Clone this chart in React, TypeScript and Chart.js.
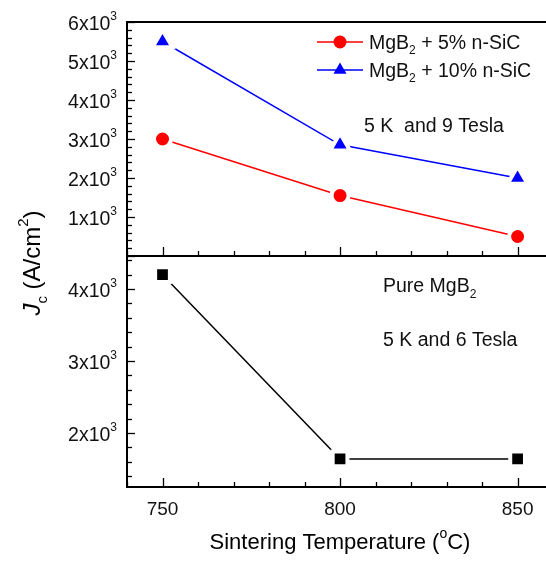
import React, { useEffect, useRef } from "react";
import { Chart, registerables } from "chart.js";

Chart.register(...registerables);

// ---- data ----
const temps = [750, 800, 850];
const jc5SiC = [3000, 1550, 500];
const jc10SiC = [5500, 2850, 2000];
const jcPure = [4200, 1640, 1640];
const xTickLabels = [750, 800, 850];
const topYTickMantissas = [1, 2, 3, 4, 5, 6];
const bottomYTickMantissas = [2, 3, 4];
const legendLabels = ["MgB|2| + 5% n-SiC", "MgB|2| + 10% n-SiC"];

const W = 546;
const H = 561;
const FAM = '"Liberation Sans", Arial, Helvetica, sans-serif';
const AX_LEFT = 127;
const TOP_Y = 22;
const MID_Y = 256;
const BOT_Y = 487;
const GAP = 4; // white halo around markers (line gap)

type Part = { t: string; sup?: boolean; sub?: boolean; italic?: boolean };

function drawRich(
  ctx: CanvasRenderingContext2D,
  parts: Part[],
  x: number,
  y: number,
  size: number,
  align: "left" | "right" | "center",
  color = "#000"
) {
  const small = Math.round(size * 0.62);
  const fontOf = (p: Part) =>
    `${p.italic ? "italic " : ""}${p.sup || p.sub ? small : size}px ${FAM}`;
  ctx.save();
  ctx.fillStyle = color;
  ctx.textBaseline = "alphabetic";
  ctx.textAlign = "left";
  const widths = parts.map((p) => {
    ctx.font = fontOf(p);
    return ctx.measureText(p.t).width;
  });
  const total = widths.reduce((a, b) => a + b, 0);
  let cx = align === "left" ? x : align === "right" ? x - total : x - total / 2;
  parts.forEach((p, i) => {
    ctx.font = fontOf(p);
    const dy = p.sup ? -size * 0.5 : p.sub ? size * 0.3 : 0;
    ctx.fillText(p.t, cx, y + dy);
    cx += widths[i];
  });
  ctx.restore();
}

function parseSub(label: string): Part[] {
  const segs = label.split("|");
  return segs.map((s, i) => (i % 2 === 1 ? { t: s, sub: true } : { t: s }));
}

function line(ctx: CanvasRenderingContext2D, x1: number, y1: number, x2: number, y2: number, w = 2, c = "#000") {
  ctx.save();
  ctx.strokeStyle = c;
  ctx.lineWidth = w;
  ctx.beginPath();
  ctx.moveTo(x1, y1);
  ctx.lineTo(x2, y2);
  ctx.stroke();
  ctx.restore();
}

function drawXTicks(chart: any, yAxis: number) {
  const ctx = chart.ctx as CanvasRenderingContext2D;
  const xs = chart.scales.x;
  for (let v = 740; v <= 860; v += 10) {
    const px = xs.getPixelForValue(v);
    if (px > W + 1) continue;
    const major = v % 50 === 0;
    line(ctx, Math.round(px) + 0.5, yAxis, Math.round(px) + 0.5, yAxis - (major ? 9 : 5), 1.3);
  }
}

function drawYTicks(chart: any, from: number, to: number) {
  const ctx = chart.ctx as CanvasRenderingContext2D;
  const ys = chart.scales.y;
  for (let v = from; v <= to; v += 200) {
    const py = ys.getPixelForValue(v);
    const major = v % 1000 === 0;
    line(ctx, AX_LEFT, Math.round(py) + 0.5, AX_LEFT + (major ? 8 : 5), Math.round(py) + 0.5, 1.3);
  }
}

function drawYLabels(chart: any, mantissas: number[]) {
  const ctx = chart.ctx as CanvasRenderingContext2D;
  const ys = chart.scales.y;
  mantissas.forEach((m) => {
    const py = ys.getPixelForValue(m * 1000);
    drawRich(ctx, [{ t: `${m}x10` }, { t: "3", sup: true }], 117, py + 8, 19.5, "right", "#111");
  });
}

const topPlugin = {
  id: "topDecor",
  afterDraw(chart: any) {
    const ctx = chart.ctx as CanvasRenderingContext2D;
    // frame
    line(ctx, AX_LEFT, TOP_Y, W, TOP_Y, 2);
    line(ctx, AX_LEFT, TOP_Y - 1, AX_LEFT, MID_Y + 1, 2);
    line(ctx, AX_LEFT, MID_Y, W, MID_Y, 2);
    drawXTicks(chart, MID_Y);
    drawYTicks(chart, 0, 6000);
    drawYLabels(chart, topYTickMantissas);

    // legend
    const rows = [
      { label: legendLabels[0], color: "#ff0000", style: "circle", r: 6.5, y: 42 },
      { label: legendLabels[1], color: "#0000ff", style: "triangle", r: 7.5, y: 70 },
    ];
    rows.forEach((row) => {
      line(ctx, 317, row.y, 363, row.y, 1.5, row.color);
      ctx.save();
      ctx.fillStyle = row.color;
      ctx.beginPath();
      if (row.style === "circle") {
        ctx.arc(340, row.y, row.r, 0, Math.PI * 2);
      } else {
        const r = row.r;
        ctx.moveTo(340, row.y - r);
        ctx.lineTo(340 + r * Math.sin(Math.PI * 2 / 3), row.y + r / 2);
        ctx.lineTo(340 - r * Math.sin(Math.PI * 2 / 3), row.y + r / 2);
        ctx.closePath();
      }
      ctx.fill();
      ctx.restore();
      drawRich(ctx, parseSub(row.label), 369, row.y + 6.5, 19.5, "left", "#111");
    });

    drawRich(ctx, [{ t: "5 K  and 9 Tesla" }], 364, 132, 19.5, "left", "#111");
  },
};

const bottomPlugin = {
  id: "bottomDecor",
  afterDraw(chart: any) {
    const ctx = chart.ctx as CanvasRenderingContext2D;
    line(ctx, AX_LEFT, MID_Y, AX_LEFT, BOT_Y + 1, 2);
    line(ctx, AX_LEFT, BOT_Y, W, BOT_Y, 2);
    drawXTicks(chart, BOT_Y);
    drawYTicks(chart, 1400, 4400);
    drawYLabels(chart, bottomYTickMantissas);

    // x tick labels
    const xs = chart.scales.x;
    xTickLabels.forEach((v) => {
      drawRich(ctx, [{ t: String(v) }], xs.getPixelForValue(v), 515, 19, "center", "#111");
    });

    // x title
    drawRich(
      ctx,
      [{ t: "Sintering Temperature (" }, { t: "o", sup: true }, { t: "C)" }],
      340,
      549,
      22,
      "center"
    );

    // y title
    ctx.save();
    ctx.translate(40, 263);
    ctx.rotate(-Math.PI / 2);
    drawRich(
      ctx,
      [{ t: "J", italic: true }, { t: "c", sub: true }, { t: " (A/cm" }, { t: "2", sup: true }, { t: ")" }],
      0,
      0,
      24,
      "center"
    );
    ctx.restore();

    drawRich(ctx, [{ t: "Pure MgB" }, { t: "2", sub: true }], 383, 292, 19.5, "left", "#111");
    drawRich(ctx, [{ t: "5 K and 6 Tesla" }], 383, 346, 19.5, "left", "#111");
  },
};

function makeOptions(yMin: number, yMax: number, padTop: number, padBottom: number) {
  return {
    responsive: false,
    animation: false as const,
    events: [] as any[],
    layout: { autoPadding: false, padding: { left: AX_LEFT, right: 0, top: padTop, bottom: padBottom } },
    plugins: { legend: { display: false }, tooltip: { enabled: false } },
    scales: {
      x: { type: "linear" as const, min: 740, max: 858, display: false, ticks: { display: false }, grid: { display: false } },
      y: { type: "linear" as const, min: yMin, max: yMax, display: false, ticks: { display: false }, grid: { display: false } },
    },
  };
}

function series(label: string, ys: number[], color: string, style: string, visibleRadius: number) {
  return {
    label,
    data: temps.map((t, i) => ({ x: t, y: ys[i] })),
    borderColor: color,
    backgroundColor: color,
    borderWidth: 1.5,
    pointStyle: style,
    pointRadius: visibleRadius,
    pointBackgroundColor: color,
    pointBorderColor: "#ffffff",
    pointBorderWidth: GAP,
    tension: 0,
    clip: false,
  };
}

export default function App() {
  const topRef = useRef<HTMLCanvasElement | null>(null);
  const botRef = useRef<HTMLCanvasElement | null>(null);

  useEffect(() => {
    const top = new Chart(topRef.current as HTMLCanvasElement, {
      type: "line",
      data: {
        datasets: [
          series("MgB2 + 5% n-SiC", jc5SiC, "#ff0000", "circle", 6.5 + GAP / 2),
          series("MgB2 + 10% n-SiC", jc10SiC, "#0000ff", "triangle", 7.5 + GAP),
        ] as any,
      },
      options: makeOptions(0, 6000, TOP_Y, H - MID_Y) as any,
      plugins: [topPlugin],
    });
    const bot = new Chart(botRef.current as HTMLCanvasElement, {
      type: "line",
      data: {
        datasets: [series("Pure MgB2", jcPure, "#000000", "rect", 7.6 + GAP / 2 / Math.SQRT1_2)] as any,
      },
      options: makeOptions(1250, 4460, MID_Y, H - BOT_Y) as any,
      plugins: [bottomPlugin],
    });
    return () => {
      top.destroy();
      bot.destroy();
    };
  }, []);

  const cstyle: React.CSSProperties = { position: "absolute", left: 0, top: 0, width: W, height: H };
  return (
    <div style={{ position: "fixed", left: 0, top: 0, width: W, height: H, overflow: "hidden", background: "#fff" }}>
      <canvas ref={topRef} width={W} height={H} style={cstyle} />
      <canvas ref={botRef} width={W} height={H} style={cstyle} />
    </div>
  );
}
